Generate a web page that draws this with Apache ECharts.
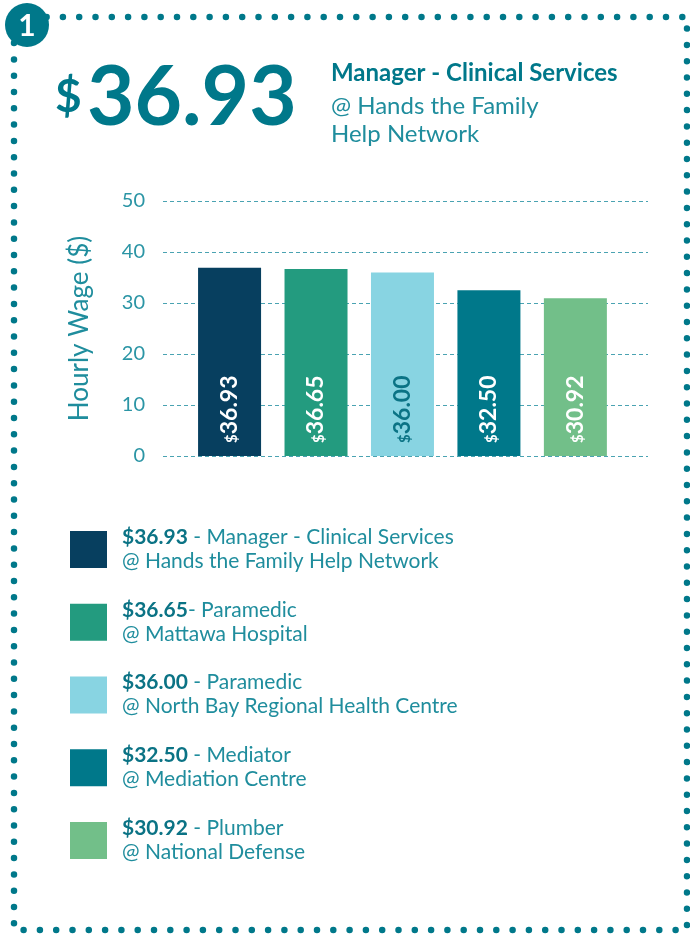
<!DOCTYPE html>
<html>
<head>
<meta charset="utf-8">
<script src="https://cdn.jsdelivr.net/npm/echarts@6/dist/echarts.min.js"></script>
<style>
html,body{margin:0;padding:0;background:#fff;}
#chart{width:690px;height:934px;}
</style>
</head>
<body>
<div id="chart"></div>
<script>
const values = [36.93, 36.65, 36.00, 32.50, 30.92];
const valueLabels = ['36.93', '36.65', '36.00', '32.50', '30.92'];
const jobs = ['Manager - Clinical Services', 'Paramedic', 'Paramedic', 'Mediator', 'Plumber'];
const places = ['Hands the Family Help Network', 'Mattawa Hospital', 'North Bay Regional Health Centre', 'Mediation Centre', 'National Defense'];
const separators = [' - ', '- ', ' - ', ' - ', ' - '];
const barColors = ['#073f5f', '#239b7f', '#88d4e2', '#00788a', '#72bf89'];
const labelColors = ['#ffffff', '#ffffff', '#0b7385', '#ffffff', '#ffffff'];
const yTicks = [0, 10, 20, 30, 40, 50];

const TEAL = '#00788a';
const LIGHT = '#1f8d9d';
const FONT = 'Lato, "Noto Sans", sans-serif';

const chart = echarts.init(document.getElementById('chart'), null, {renderer: 'canvas'});

const graphics = [
  // dotted border
  {type: 'rect', shape: {x: 14, y: 17, width: 673, height: 913},
   style: {fill: 'none', stroke: TEAL, lineWidth: 6.5, lineDash: [0, 16.3], lineCap: 'round'}, z: 1},
  // number badge
  {type: 'circle', shape: {cx: 27, cy: 25, r: 22}, style: {fill: TEAL}, z: 2},
  {type: 'text', x: 27, y: 26, z: 3,
   style: {text: '1', fill: '#fff', font: 'bold 30px ' + FONT, align: 'center', verticalAlign: 'middle'}},
  // big headline
  {type: 'text', x: 55, y: 74, style: {text: '$', fill: TEAL, font: 'bold 46px ' + FONT, align: 'left', verticalAlign: 'top'}},
  {type: 'text', x: 87, y: 140, style: {text: valueLabels[0], fill: TEAL, font: 'bold 82px ' + FONT, align: 'left', verticalAlign: 'bottom'}},
  {type: 'text', x: 331, y: 73, style: {text: jobs[0], fill: TEAL, font: 'bold 24px ' + FONT, align: 'left', verticalAlign: 'middle'}},
  {type: 'text', x: 331, y: 106, style: {text: '@ Hands the Family', fill: LIGHT, font: '24px ' + FONT, align: 'left', verticalAlign: 'middle'}},
  {type: 'text', x: 331, y: 134, style: {text: 'Help Network', fill: LIGHT, font: '24px ' + FONT, align: 'left', verticalAlign: 'middle'}}
];

// legend rows built from the data arrays
values.forEach(function (v, i) {
  const top = 531 + i * 72.75;
  graphics.push({type: 'rect', shape: {x: 70, y: top, width: 37, height: 37}, style: {fill: barColors[i]}});
  graphics.push({type: 'text', x: 122, y: top + 18,
    style: {
      text: '{b|$' + valueLabels[i] + '}{r|' + separators[i] + jobs[i] + '}\n{r|@ ' + places[i] + '}',
      align: 'left', verticalAlign: 'middle',
      rich: {
        b: {fontFamily: FONT, fontWeight: 'bold', fontSize: 21, fill: '#0b7385', lineHeight: 24},
        r: {fontFamily: FONT, fontSize: 21, fill: LIGHT, lineHeight: 24}
      }
    }});
});

chart.setOption({
  backgroundColor: '#ffffff',
  animation: false,
  textStyle: {fontFamily: FONT},
  grid: {left: 163, right: 42, top: 201, bottom: 478},
  xAxis: {
    type: 'value', min: -0.77, max: 4.84, show: false
  },
  yAxis: {
    type: 'value', min: 0, max: 50, interval: 10,
    name: 'Hourly Wage ($)', nameLocation: 'middle', nameGap: 70, nameRotate: 90,
    nameTextStyle: {color: LIGHT, fontSize: 26, fontFamily: FONT},
    axisLine: {show: false}, axisTick: {show: false},
    axisLabel: {color: '#2b95a5', fontSize: 20, fontFamily: FONT, margin: 18,
      formatter: function (v) { return yTicks.indexOf(v) >= 0 ? String(v) : ''; }},
    splitLine: {show: true, lineStyle: {color: '#4aa3b2', type: [4, 3], width: 1}}
  },
  series: [{
    type: 'bar',
    barWidth: 63,
    data: values.map(function (v, i) {
      return {
        value: [i, v],
        itemStyle: {color: barColors[i]},
        label: {color: labelColors[i]}
      };
    }),
    label: {
      show: true,
      position: 'insideBottom',
      distance: 13,
      rotate: 90,
      align: 'left',
      verticalAlign: 'middle',
      formatter: function (p) {
        return '{s|$}{v|' + valueLabels[p.dataIndex] + '}';
      },
      rich: {
        s: {fontSize: 15, fontWeight: 'bold', fontFamily: FONT, verticalAlign: 'bottom', padding: [0, 0, 1, 0]},
        v: {fontSize: 23, fontWeight: 'bold', fontFamily: FONT}
      }
    },
    z: 3
  }],
  graphic: graphics
});
</script>
</body>
</html>
